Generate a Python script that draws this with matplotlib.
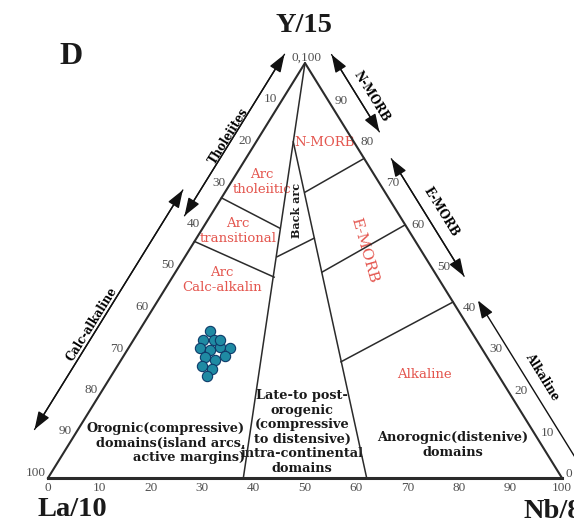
import numpy as np
import matplotlib
matplotlib.use("Agg")
import matplotlib.pyplot as plt

# ---- sample compositions (La/10, Y/15, Nb/8 in %) ----
la_vals = [50.8, 53.2, 51.0, 54.8, 53.1, 50.7, 49.0, 54.9, 53.3, 50.9, 56.5, 54.9, 56.8, 49.8]
y_vals = [35.4, 33.3, 33.3, 31.3, 30.8, 31.6, 31.3, 29.2, 28.4, 29.4, 27.0, 26.3, 24.6, 33.3]
nb_vals = [13.8, 13.5, 15.7, 13.9, 16.1, 17.7, 19.7, 15.9, 18.3, 19.7, 16.5, 18.8, 18.6, 16.9]

# ---- field boundaries (La, Y, Nb in %) ----
line_backarc_left = [(62.0, 0.0, 38.0), (0.0, 100.0, 0.0)]
line_backarc_right = [(38.0, 0.0, 62.0), (11.78, 81.0, 7.22)]
line_nmorb = [(15.5, 68.9, 15.6), (0.0, 77.0, 23.0)]
line_emorb = [(21.9, 49.6, 28.5), (0.0, 61.0, 39.0)]
line_alkaline = [(29.0, 28.0, 43.0), (0.0, 42.4, 57.6)]
line_backarc_base = [(28.8, 53.3, 17.9), (19.3, 57.8, 22.9)]
line_arc_upper = [(32.5, 67.5, 0.0), (24.8, 60.2, 15.0)]
line_arc_lower = [(43.0, 57.0, 0.0), (31.8, 48.4, 19.8)]
field_lines = [line_backarc_left, line_backarc_right, line_nmorb, line_emorb,
               line_alkaline, line_backarc_base, line_arc_upper, line_arc_lower]

tick_values = [0, 10, 20, 30, 40, 50, 60, 70, 80, 90, 100]

# ---- ranges of the outer arrows (Y/15 fraction along the side) ----
left_ranges = {"Tholeiites": (0.993, 0.604), "Calc-alkaline": (0.647, 0.07)}
right_ranges = {"N-MORB": (0.986, 0.80), "E-MORB": (0.74, 0.457), "Alkaline": (0.40, 0.02)}

# ---- layout of the triangle on the canvas (pixel-like units) ----
X0, W, Y0, H = 48.0, 514.0, 478.0, 415.0


def tern(la, y, nb):
    s = la + y + nb
    y, nb = y / s, nb / s
    return X0 + W * (nb + y / 2.0), Y0 - H * y


fig = plt.figure(figsize=(5.74, 5.23), dpi=100)
fig.patch.set_facecolor("white")
ax = fig.add_axes([0, 0, 1, 1])
ax.set_xlim(0, 574)
ax.set_ylim(523, 0)
ax.axis("off")

LINE = "#2b2b2b"
RED = "#e4564f"
SERIF = ["Liberation Serif", "DejaVu Serif"]
LSERIF = ["DejaVu Serif"]

# outline
apex = np.array(tern(0, 100, 0))
la_c = np.array(tern(100, 0, 0))
nb_c = np.array(tern(0, 0, 100))
ax.plot([la_c[0], apex[0], nb_c[0]], [la_c[1], apex[1], nb_c[1]], color=LINE, lw=1.5, zorder=3)
ax.plot([la_c[0], nb_c[0]], [la_c[1], nb_c[1]], color=LINE, lw=2.2, zorder=3)

for seg in field_lines:
    pts = [tern(*p) for p in seg]
    ax.plot([p[0] for p in pts], [p[1] for p in pts], color=LINE, lw=1.1, zorder=3)

# tick labels
tick_kw = dict(fontsize=9.5, color="#505050", family=SERIF, zorder=4)
for v in tick_values:
    x, y = tern(100 - v, 0, v)
    ax.text(x, y + 10, str(v), ha="center", va="center", **tick_kw)
for v in tick_values[1:]:
    x, y = tern(v, 100 - v, 0)
    ax.text(x - 2, y - 5, str(v), ha="right", va="center", **tick_kw)
for v in tick_values[:-1]:
    x, y = tern(0, v, 100 - v)
    ax.text(x + 4, y - 4, str(v), ha="left", va="center", **tick_kw)
ax.text(307, 58, "0,100", ha="center", va="center", **tick_kw)

# side directions
u_left = (la_c - apex) / np.linalg.norm(la_c - apex)
n_left = np.array([-abs(u_left[1]), -abs(u_left[0])])
u_right = (nb_c - apex) / np.linalg.norm(nb_c - apex)
n_right = np.array([abs(u_right[1]), -abs(u_right[0])])

arrow_kw = dict(arrowstyle="-|>,head_length=0.9,head_width=0.32", color="#111111",
                lw=1.0, mutation_scale=12, shrinkA=0, shrinkB=0)


def double_arrow(p, q):
    ax.annotate("", xy=q, xytext=p, arrowprops=arrow_kw, zorder=5)
    ax.annotate("", xy=p, xytext=q, arrowprops=arrow_kw, zorder=5)


left_offsets = {"Tholeiites": 22, "Calc-alkaline": 37}
for name, (ya, yb) in left_ranges.items():
    d = left_offsets[name]
    p = np.array(tern(1 - ya, ya, 0)) + d * n_left
    q = np.array(tern(1 - yb, yb, 0)) + d * n_left
    double_arrow(tuple(p), tuple(q))

right_offsets = {"N-MORB": 27, "E-MORB": 23, "Alkaline": 22}
for name, (ya, yb) in right_ranges.items():
    d = right_offsets[name]
    p = np.array(tern(0, ya, 1 - ya)) + d * n_right
    q = np.array(tern(0, yb, 1 - yb)) + d * n_right
    double_arrow(tuple(p), tuple(q))

side_kw = dict(fontsize=8.3, fontweight="bold", family=LSERIF, ha="center", va="center", zorder=6)
ax.text(229, 136, "Tholeiites", rotation=58.1, **side_kw)
ax.text(92, 324, "Calc-alkaline", rotation=58.1, **side_kw)
ax.text(371, 97, "N-MORB", rotation=-58.3, **side_kw)
ax.text(441, 212, "E-MORB", rotation=-58.3, **side_kw)
ax.text(542, 377, "Alkaline", rotation=-58.3, **side_kw)

# field names
red_kw = dict(fontsize=9.5, color=RED, family=LSERIF, ha="center", va="center", zorder=2,
              linespacing=1.15)
ax.text(262, 182, "Arc\ntholeiitic", **red_kw)
ax.text(238, 231, "Arc\ntransitional", **red_kw)
ax.text(222, 280, "Arc\nCalc-alkalin", **red_kw)
ax.text(325, 143, "N-MORB", **red_kw)
ax.text(424, 375, "Alkaline", **red_kw)
ax.text(364, 250, "E-MORB", rotation=-74, **dict(red_kw, fontsize=11))

blk_kw = dict(fontsize=9.3, fontweight="bold", color="#1a1a1a", family=LSERIF, zorder=2,
              linespacing=1.15)
ax.text(296, 210, "Back arc", rotation=90, ha="center", va="center", **dict(blk_kw, fontsize=8))
ax.text(245, 443, "Orognic(compressive)\ndomains(island arcs,\nactive margins)",
        ha="right", va="center", multialignment="right", **blk_kw)
ax.text(302, 432, "Late-to post-\norogenic\n(compressive\nto distensive)\nintra-continental\ndomains",
        ha="center", va="center", multialignment="center", **blk_kw)
ax.text(453, 445, "Anorognic(distenive)\ndomains", ha="center", va="center",
        multialignment="center", **blk_kw)

# apex names and panel letter
title_kw = dict(fontsize=20.5, fontweight="bold", family=SERIF, color="#1a1a1a", zorder=6)
ax.text(304, 25, "Y/15", ha="center", va="center", **title_kw)
ax.text(37, 509, "La/10", ha="left", va="center", **title_kw)
ax.text(523, 512, "Nb/8", ha="left", va="center", **title_kw)
ax.text(71, 56, "D", ha="center", va="center", **dict(title_kw, fontsize=23))

# samples
xs, ys = zip(*[tern(a, b, c) for a, b, c in zip(la_vals, y_vals, nb_vals)])
ax.scatter(xs, ys, s=55, facecolor="#1f8aa3", edgecolor="#0e3b6a", linewidth=0.8, zorder=7)

fig.savefig("out.png", dpi=100, facecolor="white")
